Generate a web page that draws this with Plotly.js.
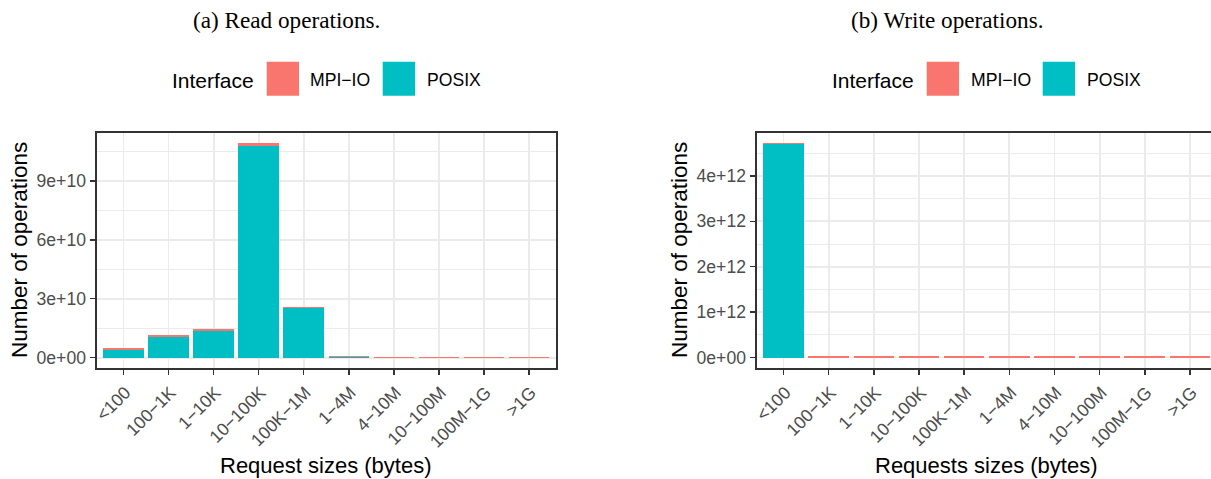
<!DOCTYPE html>
<html><head><meta charset="utf-8">
<script src="https://cdn.plot.ly/plotly-3.0.1.min.js"></script>
<style>html,body{margin:0;padding:0;overflow:hidden;background:#fff}</style>
</head><body><div id="chart"></div>
<script>
// ---- data ----
const categories = ["<100", "100\u22121K", "1\u221210K", "10\u2212100K", "100K\u22121M", "1\u22124M", "4\u221210M", "10\u2212100M", "100M\u22121G", ">1G"];
const readPosix  = [3.9e9, 10.5e9, 13.7e9, 107.9e9, 25.0e9, 0.35e9, 0, 0, 0, 0];
const readMpiio  = [0.8e9, 1.2e9, 0.7e9, 1.4e9, 1.0e9, 0.45e9, 0.5e9, 0.5e9, 0.5e9, 0.5e9];
const writePosix = [4.70e12, 0, 0, 0, 0, 0, 0, 0, 0, 0];
const writeMpiio = [0.018e12, 0.025e12, 0.025e12, 0.025e12, 0.025e12, 0.025e12, 0.025e12, 0.025e12, 0.025e12, 0.025e12];
const readTickVals  = [0, 3e10, 6e10, 9e10];
const readTickText  = ["0e+00", "3e+10", "6e+10", "9e+10"];
const writeTickVals = [0, 1e12, 2e12, 3e12, 4e12];
const writeTickText = ["0e+00", "1e+12", "2e+12", "3e+12", "4e+12"];
const seriesNames = ["MPI\u2212IO", "POSIX"];
const seriesColors = ["#F8766D", "#00BFC4"];
const panelTitles = ["(a) Read operations.", "(b) Write operations."];
const xTitles = ["Request sizes (bytes)", "Requests sizes (bytes)"];
const yTitle = "Number of operations";
const legendTitle = "Interface";

// ---- layout helpers ----
const W = 1218, H = 479;
const px = v => v / W;
const py = v => 1 - v / H;
function minorVals(vals) {
  const step = vals[1] - vals[0];
  return vals.map(v => v + step / 2);
}

const traces = [
  {type: 'bar', x: categories, y: readPosix, name: seriesNames[1], marker: {color: seriesColors[1]}, xaxis: 'x', yaxis: 'y', showlegend: false, hoverinfo: 'skip'},
  {type: 'bar', x: categories, y: readMpiio, name: seriesNames[0], marker: {color: seriesColors[0]}, xaxis: 'x', yaxis: 'y', showlegend: false, hoverinfo: 'skip'},
  {type: 'bar', x: categories, y: writePosix, name: seriesNames[1], marker: {color: seriesColors[1]}, xaxis: 'x2', yaxis: 'y2', showlegend: false, hoverinfo: 'skip'},
  {type: 'bar', x: categories, y: writeMpiio, name: seriesNames[0], marker: {color: seriesColors[0]}, xaxis: 'x2', yaxis: 'y2', showlegend: false, hoverinfo: 'skip'}
];

const sans = 'Liberation Sans, Arial, sans-serif';
const gridC = '#EBEBEB';
function xAxis(l, r, anchor) {
  return {
    domain: [px(l), px(r)], anchor: anchor, type: 'category', range: [-0.6, 9.6],
    showline: true, mirror: true, linecolor: '#333333', linewidth: 1.5,
    ticks: 'outside', ticklen: 5.5, tickwidth: 1.5, tickcolor: '#333333',
    tickangle: -45, ticklabelshift: 2, tickfont: {family: sans, size: 17.6, color: '#4D4D4D'},
    showgrid: true, gridcolor: gridC, gridwidth: 1.8, zeroline: false, fixedrange: true
  };
}
function yAxis(anchor, range, vals, text) {
  return {
    domain: [py(368.3), py(132.7)], anchor: anchor, range: range,
    tickmode: 'array', tickvals: vals, ticktext: text,
    showline: true, mirror: true, linecolor: '#333333', linewidth: 1.5,
    ticks: 'outside', ticklen: 5.5, tickwidth: 1.5, tickcolor: '#333333',
    tickfont: {family: sans, size: 17.6, color: '#4D4D4D'}, showgrid: true, gridcolor: gridC, gridwidth: 1.8, zeroline: false,
    minor: {tickmode: 'array', tickvals: minorVals(vals), showgrid: true, gridcolor: gridC, gridwidth: 1, ticks: ''},
    fixedrange: true
  };
}

const annotations = [];
const shapes = [];
function ann(text, x, y, size, opts) {
  annotations.push(Object.assign({text: text, x: px(x), y: py(y), xref: 'paper', yref: 'paper', showarrow: false,
    font: {family: sans, size: size, color: '#000'}, xanchor: 'center', yanchor: 'middle'}, opts || {}));
}
const serif = {family: 'Liberation Serif, Times New Roman, serif', size: 23.2, color: '#000'};
ann(panelTitles[0], 286, 20, 23.2, {font: serif});
ann(panelTitles[1], 946.7, 20, 23.2, {font: serif});
ann(yTitle, 19.5, 250.5, 22.5, {textangle: -90});
ann(yTitle, 679.5, 250.5, 22.5, {textangle: -90});
ann(xTitles[0], 326, 465.5, 22);
ann(xTitles[1], 986.7, 465.5, 22);
const legends = [
  {title: 169.7, box1: 266.7, lab1: 308, box2: 382.7, lab2: 424.7},
  {title: 829.7, box1: 926.7, lab1: 968.7, box2: 1042.7, lab2: 1085.3}
];
legends.forEach(L => {
  ann(legendTitle, L.title, 80, 21, {xanchor: 'left'});
  ann(seriesNames[0], L.lab1, 79.5, 17.6, {xanchor: 'left'});
  ann(seriesNames[1], L.lab2, 79.5, 17.6, {xanchor: 'left'});
  shapes.push({type: 'rect', xref: 'paper', yref: 'paper', x0: px(L.box1), x1: px(L.box1 + 32.3), y0: py(95.7), y1: py(61.7), fillcolor: seriesColors[0], line: {width: 0}});
  shapes.push({type: 'rect', xref: 'paper', yref: 'paper', x0: px(L.box2), x1: px(L.box2 + 32.3), y0: py(95.7), y1: py(61.7), fillcolor: seriesColors[1], line: {width: 0}});
});

const layout = {
  width: W, height: H, margin: {l: 0, r: 0, t: 0, b: 0},
  paper_bgcolor: '#fff', plot_bgcolor: '#fff',
  barmode: 'stack', bargap: 0.1,
  font: {family: sans},
  xaxis: xAxis(96.5, 556, 'y'),
  yaxis: yAxis('x', [-5.45e9, 114.5e9], readTickVals, readTickText),
  xaxis2: xAxis(756.5, 1217, 'y2'),
  yaxis2: yAxis('x2', [-0.236e12, 4.95e12], writeTickVals, writeTickText),
  annotations: annotations, shapes: shapes
};

Plotly.newPlot('chart', traces, layout, {displayModeBar: false, staticPlot: true});
</script></body></html>
